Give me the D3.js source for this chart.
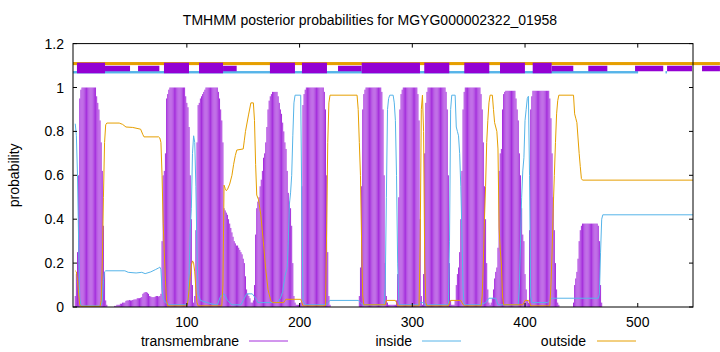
<!DOCTYPE html>
<html><head><meta charset="utf-8">
<script src="https://cdn.jsdelivr.net/npm/d3@7"></script>
<style>
body{margin:0;background:#fff}
svg{display:block}
text{font-family:"Liberation Sans",Arial,Helvetica,sans-serif;fill:#000}
</style>
</head><body>
<svg id="chart" width="720" height="352"></svg>
<script>
// ---------------- data ----------------
const titleText = "TMHMM posterior probabilities for MGYG000002322_01958";
const yAxisLabel = "probability";
const xTickValues = [100, 200, 300, 400, 500];
const yTickValues = [0, 0.2, 0.4, 0.6, 0.8, 1, 1.2];
const yTickLabels = ["0", "0.2", "0.4", "0.6", "0.8", "1", "1.2"];
const seriesNames = ["transmembrane", "inside", "outside"];
const seqLength = 549;

// transmembrane posterior, one value per residue (residue 1 first)
const tmProb = [
  0.05,0.15,0.25,0.6,0.95,0.99,1,1,1,1,
  1,1,1,1,1,1,1,1,1,0.96,
  0.93,0.9,0.85,0.75,0.62,0.37,0.16,0.03,0.01,0,
  0,0,0,0,0,0.005,0.005,0.01,0.01,0.01,
  0.015,0.015,0.02,0.02,0.02,0.028,0.03,0.03,0.032,0.03,
  0.03,0.032,0.034,0.035,0.035,0.04,0.04,0.04,0.042,0.045,
  0.06,0.065,0.068,0.068,0.065,0.06,0.05,0.048,0.045,0.045,
  0.045,0.048,0.05,0.05,0.048,0.05,0.06,0.3,0.6,0.62,
  0.7,0.95,0.97,0.99,1,1,1,1,1,1,
  1,1,1,1,1,1,1,1,0.96,0.93,
  0.91,0.82,0.6,0.4,0.1,0.02,0.05,0.35,0.75,0.92,
  0.93,0.95,0.96,0.97,0.98,0.99,1,1,1,1,
  1,1,1,1,1,1,1,0.98,0.95,0.9,
  0.85,0.75,0.45,0.44,0.43,0.42,0.4,0.38,0.36,0.34,
  0.32,0.3,0.29,0.28,0.28,0.27,0.26,0.25,0.24,0.22,
  0.2,0.14,0.08,0.06,0.05,0.04,0.02,0.02,0.03,0.1,
  0.33,0.45,0.48,0.5,0.55,0.58,0.62,0.68,0.7,0.75,
  0.82,0.9,0.94,0.96,0.97,0.98,0.98,0.98,0.98,0.98,
  0.96,0.93,0.9,0.88,0.84,0.8,0.75,0.72,0.62,0.52,
  0.48,0.45,0.37,0.2,0.05,0.02,0.01,0.01,0.01,0.01,
  0.02,0.55,0.92,0.97,0.99,1,1,1,1,1,
  1,1,1,1,1,1,1,1,1,1,
  1,0.98,0.9,0.6,0.25,0.05,0.01,0,0,0,
  0,0,0,0,0,0,0,0,0,0,
  0,0,0,0,0,0,0,0,0,0,
  0,0,0.05,0.18,0.55,0.9,0.97,0.99,1,1,
  1,1,1,1,1,1,1,1,1,1,
  1,1,0.98,0.9,0.6,0.2,0.05,0.02,0.01,0.01,
  0.01,0.01,0.01,0.01,0.01,0.03,0.15,0.5,0.9,0.97,
  0.99,1,1,1,1,1,1,1,1,1,
  1,1,1,1,0.97,0.85,0.4,0.05,0.01,0.15,
  0.7,0.93,0.98,1,1,1,1,1,1,1,
  1,1,1,1,1,1,1,1,1,0.98,
  0.9,0.6,0.2,0.03,0.01,0.01,0.01,0.03,0.1,0.15,
  0.18,0.25,0.4,0.62,0.9,0.98,1,1,1,1,
  1,1,1,1,1,1,1,1,1,1,
  0.97,0.9,0.75,0.55,0.4,0.2,0.08,0.02,0.01,0.02,
  0.04,0.08,0.13,0.16,0.18,0.27,0.62,0.7,0.72,0.9,
  0.97,0.98,0.985,0.985,0.985,0.985,0.985,0.985,0.985,0.985,
  0.985,0.95,0.9,0.85,0.7,0.6,0.45,0.33,0.3,0.15,
  0.08,0.03,0.02,0.35,0.9,0.96,0.985,0.985,0.985,0.985,
  0.985,0.985,0.985,0.985,0.985,0.985,0.985,0.985,0.985,0.985,
  0.985,0.95,0.86,0.7,0.5,0.35,0.2,0.08,0.02,0.01,
  0,0,0,0,0,0,0,0,0,0,
  0,0,0.02,0.1,0.13,0.16,0.22,0.3,0.35,0.37,
  0.38,0.38,0.38,0.38,0.38,0.38,0.38,0.38,0.38,0.38,
  0.38,0.38,0.38,0.38,0.37,0.3,0.1,0.02,0,0,
  0,0,0,0,0,0,0,0,0,0,
  0,0,0,0,0,0,0,0,0,0,
  0,0,0,0,0,0,0,0,0,0,
  0,0,0,0,0,0,0,0,0,0,
  0,0,0,0,0,0,0,0,0,0,
  0,0,0,0,0,0,0,0,0,0,
  0,0,0,0,0,0,0,0,0,0,
  0,0,0,0,0,0,0,0,0
];

// inside posterior, [residue, probability]
const insideProb = [
  [1,0.835],[2,0.78],[3,0.6],[4,0.3],[5,0.04],[6,0.01],[7,0.005],[23,0.005],[24,0.01],[25,0.03],
  [26,0.12],[27,0.16],[28,0.165],[45,0.165],[48,0.158],[55,0.155],[60,0.158],[63,0.152],[68,0.16],[72,0.17],
  [75,0.178],[76,0.182],[77,0.17],[78,0.08],[79,0.04],[80,0.03],[81,0.02],[85,0.01],[100,0.01],[101,0.03],
  [102,0.15],[103,0.35],[104,0.45],[105,0.7],[106,0.78],[107,0.75],[108,0.55],[109,0.25],[110,0.06],[112,0.03],
  [118,0.02],[125,0.01],[127,0.01],[130,0.05],[133,0.06],[136,0.03],[140,0.01],[148,0.01],[151,0.04],[153,0.06],
  [158,0.06],[161,0.04],[163,0.02],[180,0.02],[183,0.04],[185,0.07],[187,0.14],[189,0.18],[190,0.3],[191,0.47],
  [192,0.52],[193,0.6],[194,0.78],[195,0.93],[196,0.965],[201,0.965],[202,0.45],[203,0.03],[205,0.01],[224,0.01],
  [225,0.02],[227,0.03],[252,0.03],[254,0.02],[256,0.01],[275,0.01],[276,0.1],[277,0.5],[278,0.9],[279,0.95],
  [280,0.965],[283,0.965],[284,0.93],[285,0.85],[286,0.6],[287,0.2],[288,0.03],[289,0.01],[305,0.01],[307,0.02],
  [310,0.02],[311,0.01],[332,0.01],[333,0.3],[334,0.9],[335,0.965],[338,0.965],[339,0.82],[340,0.8],[341,0.78],
  [342,0.7],[343,0.55],[344,0.34],[345,0.08],[346,0.01],[360,0.01],[365,0.02],[368,0.04],[374,0.04],[376,0.01],
  [394,0.01],[395,0.1],[396,0.3],[397,0.5],[398,0.62],[399,0.68],[400,0.85],[401,0.9],[402,0.95],[403,0.96],
  [404,0.6],[405,0.05],[406,0.02],[420,0.02],[422,0.03],[424,0.04],[465,0.04],[466,0.06],[467,0.25],[468,0.4],
  [469,0.42],[549,0.42]
];

// outside posterior, [residue, probability]
const outsideProb = [
  [1,0.165],[2,0.16],[3,0.12],[4,0.06],[5,0.01],[6,0.003],[23,0.003],[24,0.03],[25,0.2],[26,0.5],
  [27,0.75],[28,0.83],[29,0.838],[40,0.838],[43,0.832],[46,0.82],[52,0.818],[59,0.81],[61,0.785],[62,0.775],
  [75,0.775],[76,0.77],[77,0.75],[78,0.6],[79,0.38],[80,0.25],[81,0.12],[82,0.03],[83,0.005],[100,0.005],
  [101,0.03],[102,0.08],[103,0.14],[104,0.19],[105,0.21],[106,0.2],[107,0.16],[108,0.08],[109,0.02],[110,0.005],
  [131,0.005],[132,0.1],[133,0.555],[134,0.54],[135,0.53],[136,0.535],[138,0.56],[140,0.6],[141.5,0.65],[143,0.69],
  [144.3,0.715],[150,0.72],[151,0.76],[152,0.8],[154.7,0.875],[156.8,0.93],[159,0.93],[160,0.85],[161,0.65],[162,0.51],
  [163.5,0.49],[165.6,0.42],[167.8,0.3],[170,0.17],[172,0.08],[174.4,0.03],[176,0.02],[186,0.02],[187,0.03],[188,0.035],
  [201,0.035],[202,0.02],[203,0.005],[223,0.005],[224,0.35],[225,0.75],[226,0.93],[227,0.965],[251,0.965],[252,0.9],
  [253,0.75],[254,0.6],[255,0.3],[256,0.05],[257,0.01],[276,0.01],[277,0.03],[285,0.03],[286,0.02],[287,0.005],
  [306,0.005],[307,0.3],[308,0.9],[309,0.965],[310,0.8],[311,0.2],[312,0.02],[313,0.005],[332,0.005],[333,0.02],
  [334,0.03],[343,0.03],[344,0.02],[346,0.005],[361,0.005],[362,0.05],[363,0.2],[364,0.4],[365,0.55],[366,0.75],
  [367,0.85],[368,0.93],[369,0.965],[371,0.965],[372,0.9],[373,0.84],[375,0.8],[376,0.72],[377,0.36],[378,0.26],
  [379,0.2],[380,0.05],[381,0.01],[398,0.01],[399,0.02],[400,0.03],[403,0.03],[404,0.02],[405,0.005],[422,0.005],
  [423,0.1],[424,0.25],[425,0.45],[426,0.6],[427,0.75],[428,0.88],[429,0.94],[430,0.965],[443,0.965],[444,0.88],
  [445,0.86],[446,0.84],[447,0.77],[448,0.7],[449,0.64],[450,0.585],[451,0.578],[549,0.578]
];

// predicted topology band above the curves: [start residue, end residue]
const topTmFull = [[2.5,27.4],[79.7,101.9],[110.8,132.1],[173.7,195.9],[202.1,224.3],[255.1,306.8],[310.6,332.8],[346.1,368.3],[377.8,399.9],[406.8,423.6]];
const topTmHalf = [[27.4,49.6],[56.7,75.6],[132.1,144.2],[234.1,255.1],[423.6,442.8],[456.1,473.0],[497.6,522.6],[526.0,548.1],[557.0,572.9]];
const topInside = [[-1,500.3],[524.6,525.9]];
const topOutside = [[-1,572.9]];

// ---------------- drawing ----------------
const plot = {left: 73, right: 693, top: 43.6, bottom: 307};
const colors = {tm: "#a52fdc", tmBand: "#9400d3", inside: "#56b4e9", outside: "#e69f00"};

const svg = d3.select("#chart");
const x = d3.scaleLinear().domain([-1, seqLength]).range([plot.left, plot.right]);
const y = d3.scaleLinear().domain([0, 1.2]).range([plot.bottom, plot.top]);

// title
svg.append("text").attr("x", 370).attr("y", 25).attr("text-anchor", "middle")
  .style("font-size", "14px").text(titleText);

// y label
svg.append("text").attr("transform", `translate(19,${(plot.top+plot.bottom)/2}) rotate(-90)`)
  .attr("text-anchor", "middle").style("font-size", "14px").text(yAxisLabel);

// transmembrane impulses
const tmData = tmProb.map((v, i) => ({r: i + 1, v}));
svg.append("g").selectAll("line").data(tmData.filter(d => d.v > 0)).join("line")
  .attr("x1", d => x(d.r)).attr("x2", d => x(d.r))
  .attr("y1", y(0)).attr("y2", d => y(d.v))
  .attr("stroke", colors.tm).attr("stroke-width", 1);

const line = d3.line().x(d => x(d[0])).y(d => y(d[1]));
svg.append("path").datum(insideProb).attr("d", line)
  .attr("fill", "none").attr("stroke", colors.inside).attr("stroke-width", 1);
svg.append("path").datum(outsideProb).attr("d", line)
  .attr("fill", "none").attr("stroke", colors.outside).attr("stroke-width", 1);

// topology band
const band = svg.append("g");
band.selectAll("rect.out").data(topOutside).join("rect").attr("class", "out")
  .attr("x", d => x(d[0])).attr("width", d => x(d[1]) - x(d[0]))
  .attr("y", y(1.116)).attr("height", y(1.102) - y(1.116)).attr("fill", colors.outside);
band.selectAll("rect.in").data(topInside).join("rect").attr("class", "in")
  .attr("x", d => x(d[0])).attr("width", d => x(d[1]) - x(d[0]))
  .attr("y", y(1.075)).attr("height", y(1.064) - y(1.075)).attr("fill", colors.inside);
band.selectAll("rect.half").data(topTmHalf).join("rect").attr("class", "half")
  .attr("x", d => x(d[0])).attr("width", d => x(d[1]) - x(d[0]))
  .attr("y", y(1.099)).attr("height", y(1.074) - y(1.099)).attr("fill", colors.tmBand);
band.selectAll("rect.full").data(topTmFull).join("rect").attr("class", "full")
  .attr("x", d => x(d[0])).attr("width", d => x(d[1]) - x(d[0]))
  .attr("y", y(1.113)).attr("height", y(1.0647) - y(1.113)).attr("fill", colors.tmBand);

// axes
const tickLen = 4;
const ax = svg.append("g");
ax.append("rect").attr("x", plot.left).attr("y", plot.top)
  .attr("width", plot.right - plot.left).attr("height", plot.bottom - plot.top)
  .attr("fill", "none").attr("stroke", "#000").attr("stroke-width", 1);
yTickValues.forEach((v, i) => {
  ax.append("line").attr("x1", plot.left).attr("x2", plot.left + tickLen)
    .attr("y1", y(v)).attr("y2", y(v)).attr("stroke", "#000");
  ax.append("line").attr("x1", plot.right).attr("x2", plot.right - tickLen)
    .attr("y1", y(v)).attr("y2", y(v)).attr("stroke", "#000");
  ax.append("text").attr("x", plot.left - 9).attr("y", y(v) + 5)
    .attr("text-anchor", "end").style("font-size", "14px").text(yTickLabels[i]);
});
xTickValues.forEach(v => {
  ax.append("line").attr("x1", x(v)).attr("x2", x(v))
    .attr("y1", plot.bottom).attr("y2", plot.bottom - tickLen).attr("stroke", "#000");
  ax.append("line").attr("x1", x(v)).attr("x2", x(v))
    .attr("y1", plot.top).attr("y2", plot.top + tickLen).attr("stroke", "#000");
  ax.append("text").attr("x", x(v)).attr("y", 327)
    .attr("text-anchor", "middle").style("font-size", "14px").text(v);
});

// legend
const legend = [
  {name: seriesNames[0], color: colors.tm, textEnd: 239, x1: 249, x2: 288},
  {name: seriesNames[1], color: colors.inside, textEnd: 412, x1: 422, x2: 461},
  {name: seriesNames[2], color: colors.outside, textEnd: 586, x1: 597, x2: 636}
];
legend.forEach(l => {
  svg.append("text").attr("x", l.textEnd).attr("y", 346).attr("text-anchor", "end")
    .style("font-size", "14px").text(l.name);
  svg.append("line").attr("x1", l.x1).attr("x2", l.x2).attr("y1", 341).attr("y2", 341)
    .attr("stroke", l.color).attr("stroke-width", 1);
});
</script>
</body></html>
